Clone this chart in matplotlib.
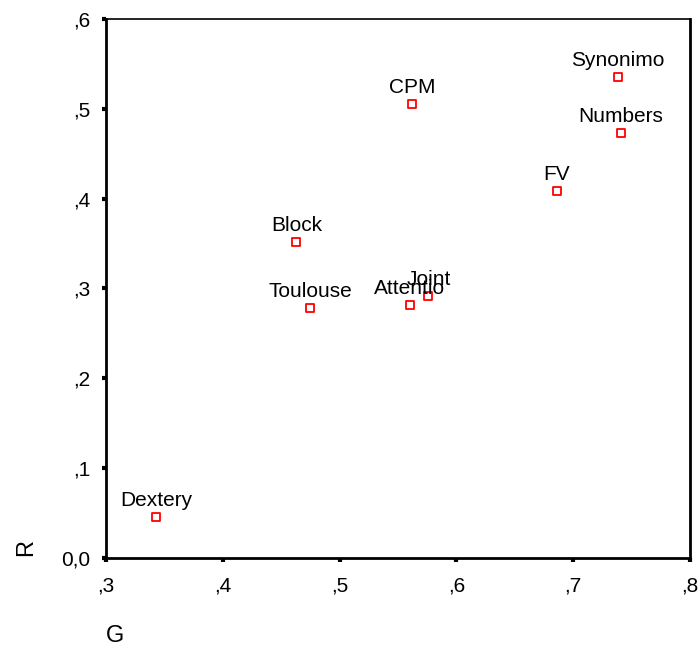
import numpy as np
import matplotlib.pyplot as plt
from matplotlib.ticker import FuncFormatter

# point labels and coordinates (G on x, R on y)
names = ["Dextery", "Toulouse", "Block", "CPM", "Attentio", "Joint",
         "FV", "Synonimo", "Numbers"]
g_vals = [0.343, 0.475, 0.463, 0.562, 0.560, 0.576, 0.686, 0.738, 0.741]
r_vals = [0.046, 0.278, 0.352, 0.505, 0.282, 0.292, 0.408, 0.535, 0.473]

x_ticks = [0.3, 0.4, 0.5, 0.6, 0.7, 0.8]
y_ticks = [0.0, 0.1, 0.2, 0.3, 0.4, 0.5, 0.6]

plt.rcParams['font.family'] = ['Liberation Sans', 'DejaVu Sans']


def comma_fmt(v, pos):
    if abs(v) < 1e-9:
        return "0,0"
    s = "%.1f" % v
    return s.replace("0.", ".").replace(".", ",")


fig = plt.figure(figsize=(6.98, 6.48), dpi=100)
ax = fig.add_axes([0.1519, 0.1389, 0.8366, 0.8318])

ax.scatter(g_vals, r_vals, marker='s', s=40, facecolors='white',
           edgecolors='red', linewidths=1.3, zorder=3)

for n, x, y in zip(names, g_vals, r_vals):
    ax.annotate(n, (x, y), xytext=(0, 8), textcoords='offset points',
                ha='center', va='baseline', fontsize=15)

ax.set_xlim(0.3, 0.8)
ax.set_ylim(0.0, 0.6)
ax.set_xticks(x_ticks)
ax.set_yticks(y_ticks)
ax.xaxis.set_major_formatter(FuncFormatter(comma_fmt))
ax.yaxis.set_major_formatter(FuncFormatter(comma_fmt))
ax.tick_params(axis='both', direction='out', length=3, width=3,
               labelsize=15, color='black')
ax.tick_params(axis='x', pad=10)
ax.tick_params(axis='y', pad=8)

for side in ['left', 'bottom', 'right']:
    ax.spines[side].set_linewidth(2)
ax.spines['top'].set_linewidth(1.2)

ax.set_xlabel("G", fontsize=17)
ax.set_ylabel("R", fontsize=17, rotation=90)
ax.xaxis.set_label_coords(0.0154, -0.125)
ax.yaxis.set_label_coords(-0.118, 0.02)

fig.savefig("out.png", dpi=100)
